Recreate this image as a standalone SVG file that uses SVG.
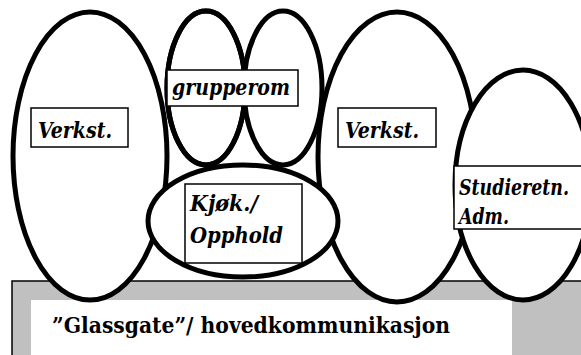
<svg xmlns="http://www.w3.org/2000/svg" width="581" height="355" viewBox="0 0 581 355">
<style>
.room{fill:#fff;stroke:#000;stroke-width:5}
.open{fill:none;stroke:#000;stroke-width:5}
.box{fill:#fff;stroke:#000;stroke-width:1.5}
.lbl{font-family:"DejaVu Serif",serif;font-stretch:condensed;font-weight:bold;font-style:italic;font-size:23px;fill:#000}
.main{font-family:"DejaVu Serif",serif;font-stretch:condensed;font-weight:bold;font-size:23px;fill:#000}
</style>
<rect width="581" height="355" fill="#fff"/>
<g id="glassgate">
<rect x="12" y="281" width="580" height="90" fill="#c0c0c0" stroke="#000" stroke-width="1.5"/>
<rect x="31" y="300" width="481" height="60" fill="#fff"/>
<text class="main" x="52" y="333" textLength="398" lengthAdjust="spacingAndGlyphs">”Glassgate”/ hovedkommunikasjon</text>
</g>
<g id="verkst-left">
<ellipse class="room" cx="90" cy="156" rx="77" ry="144"/>
</g>
<g id="verkst-right">
<ellipse class="room" cx="397" cy="157" rx="79" ry="145"/>
</g>
<g id="studieretn">
<ellipse class="room" cx="523" cy="185" rx="68" ry="115"/>
</g>
<g id="grupperom">
<ellipse class="room" cx="206" cy="88" rx="39" ry="77"/>
<ellipse class="room" cx="283" cy="88" rx="39" ry="77"/>
<ellipse class="open" cx="206" cy="88" rx="39" ry="77"/>
</g>
<g id="kjokken">
<ellipse class="room" cx="243" cy="221" rx="95" ry="56"/>
</g>
<g id="labels">
<rect class="box" x="31" y="108" width="97" height="39"/>
<text class="lbl" x="38" y="138" textLength="74" lengthAdjust="spacingAndGlyphs">Verkst.</text>
<rect class="box" x="338" y="108" width="98" height="39"/>
<text class="lbl" x="345" y="138" textLength="74" lengthAdjust="spacingAndGlyphs">Verkst.</text>
<rect class="box" x="167" y="70" width="131" height="36"/>
<text class="lbl" x="172" y="95" textLength="118" lengthAdjust="spacingAndGlyphs">grupperom</text>
<rect class="box" x="185" y="184" width="117" height="79"/>
<text class="lbl" x="190" y="211" textLength="68" lengthAdjust="spacingAndGlyphs">Kjøk./</text>
<text class="lbl" x="190" y="243" textLength="93" lengthAdjust="spacingAndGlyphs">Opphold</text>
<rect class="box" x="454" y="166" width="140" height="63"/>
<text class="lbl" x="459" y="195" textLength="110" lengthAdjust="spacingAndGlyphs">Studieretn.</text>
<text class="lbl" x="459" y="224" textLength="50" lengthAdjust="spacingAndGlyphs">Adm.</text>
</g>
</svg>
